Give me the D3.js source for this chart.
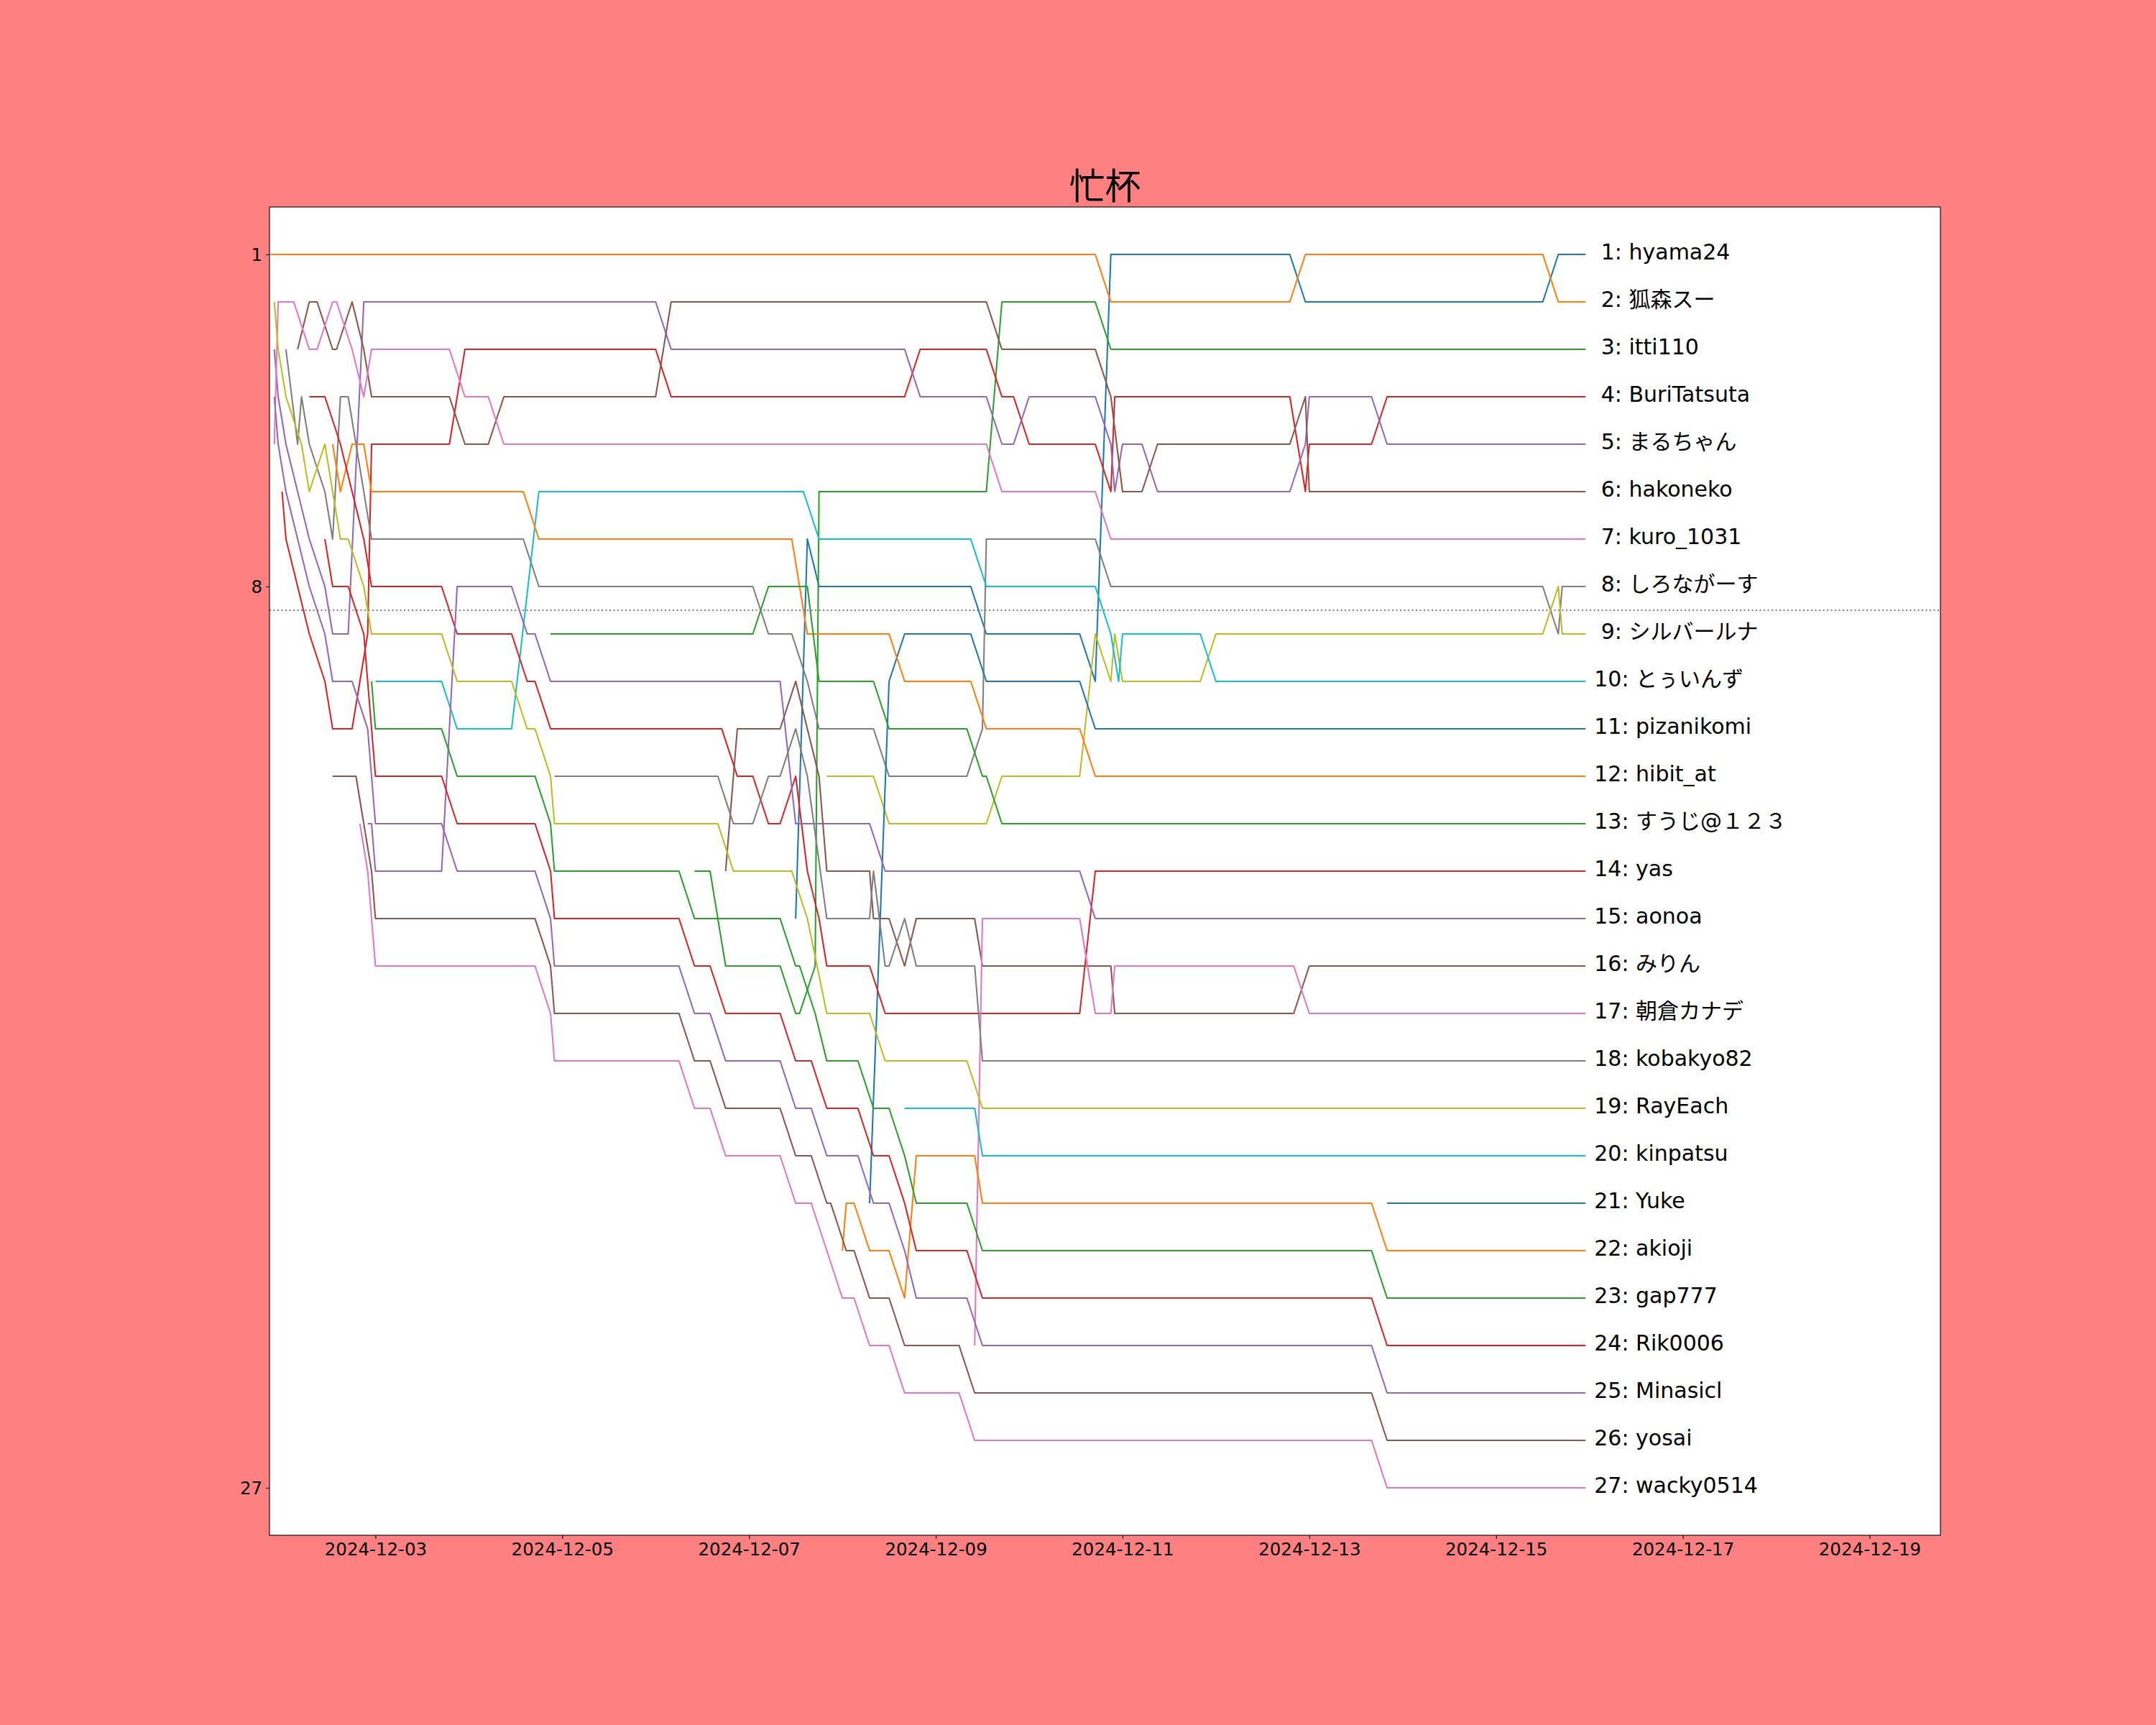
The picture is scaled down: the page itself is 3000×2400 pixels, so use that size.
<!DOCTYPE html>
<html>
<head>
<meta charset="utf-8">
<script src="https://cdn.jsdelivr.net/npm/d3@7"></script>
<style>
  html, body { margin: 0; padding: 0; overflow: hidden; background: #ff8080; }
  svg { display: block; }
  svg text { font-family: "DejaVu Sans", "Noto Sans CJK JP", sans-serif; }
</style>
</head>
<body>
<div id="chart"></div>
<script>
//hours are counted from this moment
const startDate = new Date(2024, 11, 1, 0, 0);

//player names, in final rank order
const names = [
    "hyama24", "狐森スー", "itti110", "BuriTatsuta", "まるちゃん", "hakoneko",
    "kuro_1031", "しろながーす", "シルバールナ", "とぅいんず", "pizanikomi",
    "hibit_at", "すうじ@１２３", "yas", "aonoa", "みりん", "朝倉カナデ",
    "kobakyo82", "RayEach", "kinpatsu", "Yuke", "akioji", "gap777",
    "Rik0006", "Minasicl", "yosai", "wacky0514",
];

//rank history of each player: [hour, rank]
const rankHistory = [
    [[156,15],[159,7],[162,8],[201,8],[205,9],[229,9],[233,10],[237,1],[283,1],[287,2],[348,2],[352,1],[359,1]],
    [[21,1],[233,1],[237,2],[283,2],[287,1],[348,1],[352,2],[359,2]],
    [[130,14],[134,14],[138,16],[152,16],[156,17],[157,17],[161,16],[162,6],[205,6],[209,2],[233,2],[237,3],[359,3]],
    [[24,6],[25,7],[31,9],[35,10],[37,11],[42,11],[46,9],[47,5],[67,5],[71,3],[120,3],[124,4],[184,4],[188,3],[205,3],[209,4],[212,4],[216,5],[233,5],[237,6],[238,4],[283,4],[287,6],[288,5],[304,5],[308,4],[359,4]],
    [[22,3],[23,4],[25,5],[28,6],[31,7],[35,8],[37,9],[41,9],[45,2],[120,2],[124,3],[184,3],[188,4],[205,4],[209,5],[212,5],[216,4],[233,4],[237,5],[238,6],[240,5],[245,5],[249,6],[283,6],[287,5],[288,4],[304,4],[308,5],[359,5]],
    [[28,3],[31,2],[33,2],[37,3],[38,3],[42,2],[45,3],[47,4],[67,4],[71,5],[77,5],[81,4],[120,4],[124,2],[205,2],[209,3],[233,3],[237,4],[240,6],[245,6],[249,5],[283,5],[287,4],[288,6],[359,6]],
    [[22,5],[23,2],[27,2],[31,3],[33,3],[37,2],[38,2],[42,3],[45,4],[47,3],[67,3],[71,4],[77,4],[81,5],[205,5],[209,6],[233,6],[237,7],[359,7]],
    [[25,3],[28,5],[29,4],[31,5],[35,6],[37,7],[39,4],[41,4],[47,7],[86,7],[90,8],[145,8],[149,9],[155,9],[159,10],[162,11],[176,11],[180,12],[200,12],[204,11],[205,7],[233,7],[237,8],[348,8],[352,9],[353,8],[359,8]],
    [[164,12],[176,12],[180,13],[205,13],[209,12],[229,12],[233,9],[237,10],[238,9],[240,10],[260,10],[264,9],[348,9],[352,8],[353,9],[359,9]],
    [[48,10],[65,10],[69,11],[83,11],[90,6],[158,6],[162,7],[201,7],[205,8],[233,8],[237,9],[239,10],[240,9],[260,9],[264,10],[359,10]],
    [[175,21],[180,10],[184,9],[201,9],[205,10],[229,10],[233,11],[359,11]],
    [[37,5],[39,6],[42,5],[45,5],[47,6],[86,6],[90,7],[155,7],[159,9],[180,9],[184,10],[201,10],[205,11],[229,11],[233,12],[359,12]],
    [[93,9],[145,9],[149,8],[159,8],[162,10],[176,10],[180,11],[200,11],[204,12],[205,12],[209,13],[359,13]],
    [[31,4],[35,4],[39,5],[45,7],[47,8],[65,8],[69,9],[83,9],[87,10],[89,10],[93,11],[137,11],[141,12],[145,12],[149,13],[152,13],[156,12],[159,14],[162,15],[164,16],[175,16],[179,17],[229,17],[233,14],[359,14]],
    [[46,13],[47,13],[48,14],[65,14],[69,8],[83,8],[87,9],[89,9],[93,10],[152,10],[156,13],[175,13],[179,14],[229,14],[233,15],[359,15]],
    [[138,14],[141,11],[152,11],[156,10],[162,12],[164,14],[175,14],[176,15],[180,15],[184,16],[187,15],[202,15],[204,16],[237,16],[238,17],[284,17],[288,16],[359,16]],
    [[202,24],[204,15],[229,15],[233,17],[237,17],[238,16],[284,16],[288,17],[359,17]],
    [[94,12],[136,12],[140,13],[145,13],[149,12],[152,12],[156,11],[159,12],[164,15],[175,15],[176,14],[179,16],[180,16],[184,15],[187,16],[202,16],[204,18],[359,18]],
    [[22,2],[23,3],[25,4],[29,5],[31,6],[35,5],[39,7],[41,7],[45,8],[47,9],[65,9],[69,10],[83,10],[87,11],[89,11],[93,12],[94,13],[136,13],[140,14],[155,14],[159,15],[164,17],[175,17],[179,18],[200,18],[204,19],[359,19]],
    [[184,19],[202,19],[204,20],[359,20]],
    [[308,21],[359,21]],
    [[168,22],[169,21],[171,21],[175,22],[180,22],[184,23],[187,20],[202,20],[204,21],[304,21],[308,22],[359,22]],
    [[47,10],[48,11],[65,11],[69,12],[89,12],[93,13],[94,14],[126,14],[130,15],[152,15],[156,16],[157,16],[161,17],[164,18],[172,18],[176,19],[180,19],[184,20],[187,21],[200,21],[204,22],[304,22],[308,23],[359,23]],
    [[35,7],[37,8],[41,8],[45,9],[48,12],[65,12],[69,13],[89,13],[93,14],[94,15],[126,15],[130,16],[134,16],[138,17],[152,17],[156,18],[160,18],[164,19],[172,19],[176,20],[180,20],[184,21],[187,22],[200,22],[204,23],[304,23],[308,24],[359,24]],
    [[22,4],[23,5],[25,6],[31,8],[35,9],[37,10],[42,10],[46,11],[48,13],[65,13],[69,14],[89,14],[93,15],[94,16],[126,16],[130,17],[134,17],[138,18],[152,18],[156,19],[160,19],[164,20],[172,20],[176,21],[180,21],[184,22],[187,23],[200,23],[204,24],[304,24],[308,25],[359,25]],
    [[37,12],[43,12],[47,14],[48,15],[89,15],[93,16],[94,17],[126,17],[130,18],[134,18],[138,19],[152,19],[156,20],[160,20],[164,21],[165,21],[169,22],[171,22],[175,23],[180,23],[184,24],[198,24],[202,25],[304,25],[308,26],[359,26]],
    [[44,13],[46,14],[48,16],[89,16],[93,17],[94,18],[126,18],[130,19],[134,19],[138,20],[152,20],[156,21],[160,21],[164,22],[168,23],[171,23],[175,24],[180,24],[184,25],[198,25],[202,26],[304,26],[308,27],[359,27]],
];

//ranks shown on the y axis
const yTicks = [1, 8, 27];
//border rank drawn as a dotted line
const borderRank = 8.5;
//visible time range, hours
const hourRange = [20.77, 450.2];

//svg size
const width = 3000;
const height = 2400;
const margin = { top: 288, right: 300, bottom: 264, left: 375 };
const innerWidth = width - margin.left - margin.right;
const innerHeight = height - margin.top - margin.bottom;

const hourToDate = (h) => new Date(startDate.getTime() + h * 3600 * 1000);

const x = d3
    .scaleTime()
    .domain(hourRange.map(hourToDate))
    .range([0, innerWidth]);
const y = d3.scaleLinear().domain([0, 28]).range([0, innerHeight]);

const svg = d3
    .select("#chart")
    .append("svg")
    .attr("width", width)
    .attr("height", height)
    .attr("viewBox", [0, 0, width, height]);

svg.append("rect")
    .attr("width", width)
    .attr("height", height)
    .attr("fill", "#ff8080");

//title
svg.append("text")
    .attr("x", margin.left + innerWidth / 2)
    .attr("y", 277)
    .attr("text-anchor", "middle")
    .style("font-family", "'Noto Sans CJK JP', sans-serif")
    .attr("font-size", 50)
    .text("忙杯");

const g = svg
    .append("g")
    .attr("transform", `translate(${margin.left},${margin.top})`);

g.append("rect")
    .attr("width", innerWidth)
    .attr("height", innerHeight)
    .attr("fill", "white");

g.append("clipPath")
    .attr("id", "plot-clip")
    .append("rect")
    .attr("width", innerWidth)
    .attr("height", innerHeight);

//dotted border line
g.append("line")
    .attr("x1", 0)
    .attr("x2", innerWidth)
    .attr("y1", y(borderRank))
    .attr("y2", y(borderRank))
    .attr("stroke", "#808080")
    .attr("stroke-width", 2.08)
    .attr("stroke-dasharray", "2.1,3.4");

//rank lines
const line = d3
    .line()
    .x((d) => x(hourToDate(d[0])))
    .y((d) => y(d[1]));

const color = (i) => d3.schemeCategory10[i % 10];

g.append("g")
    .attr("clip-path", "url(#plot-clip)")
    .selectAll("path.rank")
    .data(rankHistory)
    .join("path")
    .attr("class", "rank")
    .attr("fill", "none")
    .attr("stroke", (d, i) => color(i))
    .attr("stroke-width", 2.08)
    .attr("stroke-linejoin", "round")
    .attr("d", line);

//name labels at the end of each line
//(a one digit rank is padded by the width of a space)
const labelSize = 30;
g.selectAll("text.name")
    .data(rankHistory)
    .join("text")
    .attr("class", "name")
    .attr("x", (d, i) => x(hourToDate(d[d.length - 1][0])) + 12 + (i < 9 ? labelSize * 0.318 : 0))
    .attr("y", (d) => y(d[d.length - 1][1]) + 7)
    .attr("font-size", labelSize)
    .text((d, i) => `${i + 1}: ${names[i]}`);

//axes
const xAxis = g
    .append("g")
    .attr("transform", `translate(0,${innerHeight})`)
    .call(
        d3
            .axisBottom(x)
            .ticks(d3.timeDay.every(2))
            .tickFormat(d3.timeFormat("%Y-%m-%d"))
            .tickSize(4.9)
            .tickSizeOuter(0)
            .tickPadding(4.9)
    );

const yAxis = g
    .append("g")
    .call(
        d3
            .axisLeft(y)
            .tickValues(yTicks)
            .tickSize(4.9)
            .tickSizeOuter(0)
            .tickPadding(4.9)
    );

[xAxis, yAxis].forEach((axis) => {
    axis.select(".domain").remove();
    axis.selectAll(".tick line").attr("stroke", "black").attr("stroke-width", 1.1);
    axis.selectAll(".tick text")
        .attr("fill", "black")
        .attr("font-size", 24.5)
        .style("font-family", "'DejaVu Sans', sans-serif");
});
xAxis.selectAll(".tick text").attr("dy", "0.76em");
yAxis.selectAll(".tick text").attr("dy", "0.36em");

//frame
g.append("rect")
    .attr("width", innerWidth)
    .attr("height", innerHeight)
    .attr("fill", "none")
    .attr("stroke", "black")
    .attr("stroke-width", 1.1);
</script>
</body>
</html>
